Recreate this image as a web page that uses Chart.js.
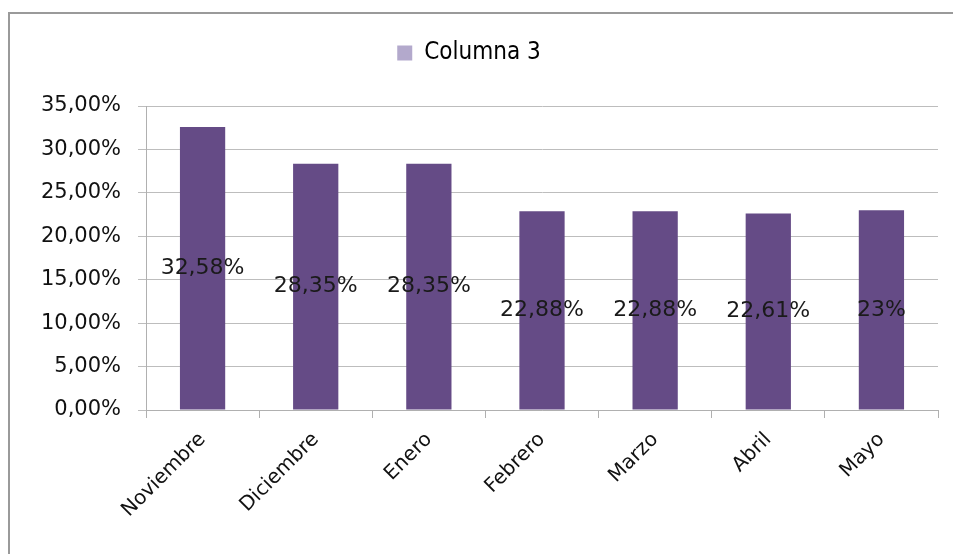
<!DOCTYPE html>
<html>
<head>
<meta charset="utf-8">
<script src="https://cdn.jsdelivr.net/npm/chart.js@4/dist/chart.umd.min.js"></script>
<style>
html,body{margin:0;padding:0;background:#fff;overflow:hidden;}
#wrap{position:relative;width:953px;height:554px;}
#frame{position:absolute;left:8px;top:12px;width:960px;height:560px;border-top:2px solid #9a9a9a;border-left:2px solid #9a9a9a;pointer-events:none;}
canvas{position:absolute;left:0;top:0;}
</style>
</head>
<body>
<div id="wrap">
<canvas id="c" width="953" height="554"></canvas>
<div id="frame"></div>
</div>
<script>
const categories = ['Noviembre','Diciembre','Enero','Febrero','Marzo','Abril','Mayo'];
const values = [32.58, 28.35, 28.35, 22.88, 22.88, 22.61, 23];
const valueLabels = ['32,58%','28,35%','28,35%','22,88%','22,88%','22,61%','23%'];
const seriesName = 'Columna 3';
const yTicks = [0,5,10,15,20,25,30,35];

const FONT = "'DejaVu Sans', sans-serif";

const barLabels = {
  id: 'barLabels',
  afterDatasetsDraw(chart) {
    const ctx = chart.ctx;
    const meta = chart.getDatasetMeta(0);
    ctx.save();
    ctx.font = '22px ' + FONT;
    ctx.fillStyle = '#1a1a1a';
    ctx.textAlign = 'center';
    ctx.textBaseline = 'middle';
    meta.data.forEach((bar, i) => {
      const p = bar.getProps(['x','y','base'], true);
      ctx.fillText(valueLabels[i], p.x, (p.y + p.base) / 2);
    });
    ctx.restore();
  }
};

const legendHeight = {
  id: 'legendHeight',
  afterInit(chart) {
    const lg = chart.legend;
    if (!lg) return;
    const orig = lg.fit.bind(lg);
    lg.fit = function() { orig(); this.height = 72; };
  }
};

new Chart(document.getElementById('c'), {
  type: 'bar',
  data: {
    labels: categories,
    datasets: [{
      label: seriesName,
      data: values,
      backgroundColor: '#654b86',
      borderWidth: 0,
      barPercentage: 0.4,
      categoryPercentage: 1.0
    }]
  },
  options: {
    responsive: false,
    animation: false,
    layout: { padding: { top: 34, right: 15, left: 0, bottom: 0 } },
    plugins: {
      legend: {
        display: true,
        position: 'top',
        labels: {
          color: '#111',
          font: { family: "'DejaVu Sans Condensed', 'DejaVu Sans', sans-serif", size: 24 },
          boxWidth: 15,
          boxHeight: 15,
          padding: 7,
          generateLabels(chart) {
            return [{ text: seriesName, fillStyle: '#b3a9cc', strokeStyle: '#b3a9cc', lineWidth: 0, datasetIndex: 0 }];
          }
        }
      },
      tooltip: { enabled: false }
    },
    scales: {
      x: {
        grid: { drawOnChartArea: false, tickLength: 8, color: '#b0b0b0', offset: true },
        border: { color: '#b0b0b0', width: 1 },
        ticks: {
          color: '#111',
          font: { family: FONT, size: 20 },
          maxRotation: 45,
          minRotation: 45,
          padding: 10
        },
        afterFit(scale) { scale.height = 144; }
      },
      y: {
        min: 0,
        max: 35,
        afterBuildTicks(scale) { scale.ticks = yTicks.map(v => ({ value: v })); },
        grid: { color: '#bdbdbd', tickLength: 8 },
        border: { color: '#b0b0b0', width: 1 },
        ticks: {
          color: '#111',
          font: { family: FONT, size: 21 },
          padding: 17,
          callback(v) { return v.toFixed(2).replace('.', ',') + '%'; }
        },
        afterFit(scale) { scale.width = 146; }
      }
    }
  },
  plugins: [barLabels, legendHeight]
});
</script>
</body>
</html>
